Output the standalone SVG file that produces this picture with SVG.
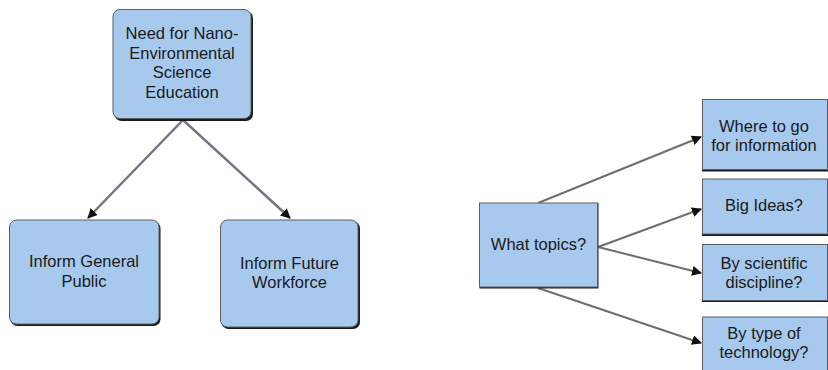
<svg xmlns="http://www.w3.org/2000/svg" width="828" height="370" viewBox="0 0 828 370">
<defs>
<style>
.box{fill:#a7c9ee;stroke:#5a5f66;stroke-width:1}
.sh{fill:#1a1a1a}
.t{font-family:"Liberation Sans",Arial,sans-serif;font-size:16.5px;fill:#1a1a1a;text-anchor:middle}
.c{fill:none;stroke:#737681;stroke-width:2.5}
.c2{fill:none;stroke:#6e6e6e;stroke-width:2}
</style>
<marker id="ah" viewBox="0 0 10 10" refX="9" refY="5" markerWidth="4" markerHeight="4" orient="auto" markerUnits="strokeWidth">
<path d="M0,0 L10,5 L0,10 z" fill="#111"/>
</marker>
<marker id="ah2" viewBox="0 0 10 10" refX="9" refY="5" markerWidth="5" markerHeight="5" orient="auto" markerUnits="strokeWidth">
<path d="M0,0 L10,5 L0,10 z" fill="#111"/>
</marker>
</defs>
<rect width="828" height="370" fill="#fff"/>
<g id="connectors">
<line class="c" x1="183" y1="120" x2="88" y2="218" marker-end="url(#ah)"/>
<line class="c" x1="183" y1="120" x2="290" y2="218" marker-end="url(#ah)"/>
<line class="c2" x1="538" y1="203" x2="701" y2="137" marker-end="url(#ah2)"/>
<line class="c2" x1="598" y1="247" x2="701" y2="209" marker-end="url(#ah2)"/>
<line class="c2" x1="598" y1="247" x2="701" y2="273" marker-end="url(#ah2)"/>
<line class="c2" x1="538" y1="288" x2="701" y2="343" marker-end="url(#ah2)"/>
</g>
<g id="need">
<rect class="sh" x="114.5" y="11" width="138.5" height="110" rx="7"/>
<rect class="box" x="113" y="9.5" width="138" height="109" rx="7"/>
<text class="t" x="182" y="39">Need for Nano-</text>
<text class="t" x="182" y="58.5">Environmental</text>
<text class="t" x="182" y="78">Science</text>
<text class="t" x="182" y="97.5">Education</text>
</g>
<g id="public">
<rect class="sh" x="10.5" y="221.5" width="150" height="104.5" rx="7"/>
<rect class="box" x="9.5" y="220" width="149.5" height="104" rx="7"/>
<text class="t" x="84" y="267">Inform General</text>
<text class="t" x="84" y="286.5">Public</text>
</g>
<g id="workforce">
<rect class="sh" x="221.5" y="221.5" width="138.5" height="107.5" rx="7"/>
<rect class="box" x="220.5" y="220" width="137.5" height="107" rx="7"/>
<text class="t" x="289.5" y="268.5">Inform Future</text>
<text class="t" x="289.5" y="288">Workforce</text>
</g>
<g id="topics">
<rect class="sh" x="479.5" y="203" width="119" height="85.5"/>
<rect class="box" x="479.5" y="203" width="118" height="84"/>
<text class="t" x="538.5" y="250">What topics?</text>
</g>
<g id="where">
<rect class="sh" x="702" y="99.5" width="126" height="72"/>
<rect class="box" x="702.5" y="99.5" width="125" height="70"/>
<text class="t" x="764" y="131.5">Where to go</text>
<text class="t" x="764" y="151">for information</text>
</g>
<g id="bigideas">
<rect class="sh" x="702" y="179" width="126" height="57"/>
<rect class="box" x="702.5" y="179" width="125" height="55"/>
<text class="t" x="764" y="211">Big Ideas?</text>
</g>
<g id="discipline">
<rect class="sh" x="702" y="244.5" width="126" height="57.5"/>
<rect class="box" x="702.5" y="244.5" width="125" height="56"/>
<text class="t" x="764" y="268.5">By scientific</text>
<text class="t" x="764" y="288">discipline?</text>
</g>
<g id="technology">
<rect class="sh" x="702" y="317" width="126" height="60"/>
<rect class="box" x="702.5" y="317" width="125" height="60"/>
<text class="t" x="764" y="338.5">By type of</text>
<text class="t" x="764" y="358">technology?</text>
</g>
</svg>
